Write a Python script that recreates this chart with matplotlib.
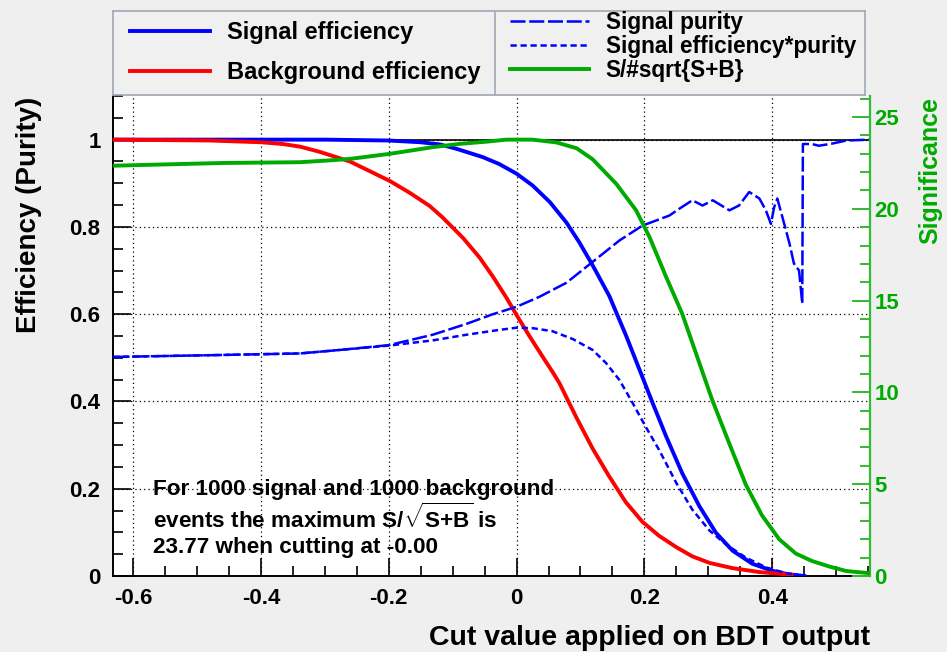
"""
BDT cut efficiencies and significance (TMVA style)
"""

import matplotlib
matplotlib.use("Agg")
import matplotlib.pyplot as plt
from matplotlib.ticker import MultipleLocator, FixedLocator

plt.rcParams["font.family"] = ["Liberation Sans", "DejaVu Sans"]
plt.rcParams["font.weight"] = "bold"
plt.rcParams["mathtext.fontset"] = "custom"
plt.rcParams["mathtext.rm"] = "Liberation Sans:bold"
plt.rcParams["mathtext.bf"] = "Liberation Sans:bold"

# ---- data ----
sig_eff_x = [-0.631, -0.30, -0.20, -0.15, -0.12, -0.094, -0.053, -0.027, 0.0, 0.025,
             0.052, 0.078, 0.098, 0.119, 0.145, 0.171, 0.192, 0.213, 0.234, 0.259,
             0.286, 0.312, 0.338, 0.369, 0.40, 0.425, 0.45]
sig_eff_y = [1.0, 1.0, 0.998, 0.994, 0.989, 0.979, 0.96, 0.944, 0.922, 0.895,
             0.857, 0.810, 0.765, 0.712, 0.642, 0.552, 0.474, 0.396, 0.320, 0.236,
             0.160, 0.099, 0.058, 0.028, 0.012, 0.004, 0.0]

bkg_eff_x = [-0.631, -0.48, -0.40, -0.366, -0.339, -0.308, -0.261, -0.23, -0.198, -0.167,
             -0.136, -0.116, -0.084, -0.058, -0.037, -0.016, 0.0, 0.02, 0.041, 0.057,
             0.067, 0.094, 0.119, 0.145, 0.171, 0.197, 0.223, 0.25, 0.275, 0.302,
             0.338, 0.38, 0.43]
bkg_eff_y = [1.0, 0.998, 0.994, 0.99, 0.984, 0.972, 0.950, 0.928, 0.905, 0.878,
             0.848, 0.822, 0.775, 0.730, 0.686, 0.638, 0.598, 0.550, 0.502, 0.466,
             0.442, 0.362, 0.292, 0.228, 0.169, 0.124, 0.092, 0.066, 0.045, 0.03,
             0.018, 0.009, 0.003]

purity_x = [-0.631, -0.48, -0.339, -0.277, -0.20, -0.131, -0.078, -0.037, 0.0, 0.036,
            0.078, 0.114, 0.161, 0.197, 0.239, 0.255, 0.275, 0.291, 0.307, 0.333,
            0.348, 0.364, 0.38, 0.39, 0.398, 0.403, 0.408, 0.416, 0.427, 0.434,
            0.442, 0.447, 0.448, 0.462, 0.473, 0.494, 0.516, 0.553]
purity_y = [0.502, 0.506, 0.51, 0.518, 0.529, 0.553, 0.578, 0.600, 0.617, 0.640,
            0.672, 0.714, 0.769, 0.803, 0.826, 0.842, 0.861, 0.849, 0.861, 0.838,
            0.849, 0.88, 0.865, 0.838, 0.807, 0.845, 0.865, 0.822, 0.762, 0.716,
            0.70, 0.624, 0.99, 0.99, 0.986, 0.991, 0.998, 1.0]

effpur_x = [-0.631, -0.48, -0.339, -0.277, -0.20, -0.131, -0.078, -0.027, 0.0, 0.025,
            0.056, 0.088, 0.119, 0.14, 0.161, 0.181, 0.202, 0.223, 0.25, 0.275,
            0.302, 0.328, 0.359, 0.39, 0.42, 0.45]
effpur_y = [0.502, 0.506, 0.51, 0.518, 0.528, 0.54, 0.553, 0.564, 0.569, 0.568,
            0.561, 0.543, 0.518, 0.488, 0.449, 0.398, 0.342, 0.289, 0.213, 0.152,
            0.104, 0.072, 0.042, 0.020, 0.007, 0.0]

signif_x = [-0.631, -0.458, -0.339, -0.297, -0.261, -0.20, -0.131, -0.089, -0.047, -0.016,
            0.025, 0.062, 0.094, 0.119, 0.156, 0.187, 0.208, 0.234, 0.259, 0.281,
            0.306, 0.333, 0.359, 0.384, 0.411, 0.437, 0.462, 0.489, 0.516, 0.553]
signif_y = [22.35, 22.5, 22.54, 22.63, 22.72, 22.99, 23.36, 23.54, 23.66, 23.77,
            23.77, 23.62, 23.3, 22.7, 21.36, 19.92, 18.46, 16.29, 14.3, 12.1,
            9.6, 7.2, 4.95, 3.3, 2.0, 1.22, 0.82, 0.52, 0.27, 0.15]

x_ticks = [-0.6, -0.4, -0.2, 0.0, 0.2, 0.4]
x_ticklabels = ["-0.6", "-0.4", "-0.2", "0", "0.2", "0.4"]
y_ticks = [0.0, 0.2, 0.4, 0.6, 0.8, 1.0]
y_ticklabels = ["0", "0.2", "0.4", "0.6", "0.8", "1"]
sig_ticks = [0, 5, 10, 15, 20, 25]
sig_ticklabels = ["0", "5", "10", "15", "20", "25"]

n_signal = 1000
n_background = 1000
max_signif = 23.77
best_cut = "-0.00"

W, H = 947, 652
BG = "#efefef"
GREEN = "#00aa00"
GREEN_AX = "#33bb33"

fig = plt.figure(figsize=(W / 100, H / 100), dpi=100, facecolor=BG)
ax = fig.add_axes([113 / W, 1 - 576 / H, (870 - 113) / W, (576 - 96) / H])
ax.set_facecolor("white")

ax.set_xlim(-0.6315, 0.553)
ax.set_ylim(0, 1.1)

# grid + reference line
ax.xaxis.set_major_locator(FixedLocator(x_ticks))
ax.yaxis.set_major_locator(FixedLocator(y_ticks))
ax.xaxis.set_minor_locator(MultipleLocator(0.05))
ax.yaxis.set_minor_locator(MultipleLocator(0.05))
ax.set_xticklabels(x_ticklabels)
ax.set_yticklabels(y_ticklabels)
ax.grid(True, which="major", color="black", linestyle=(0, (1, 2.5)), linewidth=0.9)
ax.axhline(1.0, color="black", linewidth=1.2, zorder=2)

l_seff, = ax.plot(sig_eff_x, sig_eff_y, color="#0000ff", lw=2.8, zorder=3,
                  label="Signal efficiency")
l_beff, = ax.plot(bkg_eff_x, bkg_eff_y, color="#ff0000", lw=2.8, zorder=3,
                  label="Background efficiency")
l_pur, = ax.plot(purity_x, purity_y, color="#0000ff", lw=1.8, zorder=3,
                 linestyle=(0, (6, 1.5)), label="Signal purity")
l_ep, = ax.plot(effpur_x, effpur_y, color="#0000ff", lw=1.8, zorder=3,
                linestyle=(0, (2.5, 1.5)), label="Signal efficiency*purity")

# significance on the right-hand scale
ax2 = ax.twinx()
ax2.set_ylim(0, 1.1 * max_signif)
l_sig, = ax2.plot(signif_x, signif_y, color=GREEN, lw=2.8, zorder=3,
                  label="S/#sqrt{S+B}")
ax2.yaxis.set_major_locator(FixedLocator(sig_ticks))
ax2.yaxis.set_minor_locator(MultipleLocator(1))
ax2.set_yticklabels(sig_ticklabels)

for side in ["top", "right"]:
    ax.spines[side].set_visible(False)
for side in ["top", "left", "bottom"]:
    ax2.spines[side].set_visible(False)
ax2.spines["right"].set_color(GREEN_AX)
ax2.spines["right"].set_linewidth(1.6)
ax.spines["left"].set_linewidth(1.4)
ax.spines["bottom"].set_linewidth(1.4)

ax.tick_params(axis="both", which="major", direction="in", length=13, width=1.2,
               labelsize=16, pad=9)
ax.tick_params(axis="both", which="minor", direction="in", length=7, width=1.2)
ax.tick_params(axis="y", right=False)
ax.tick_params(axis="x", top=False)
ax2.tick_params(axis="y", which="major", direction="in", length=13, width=1.4,
                colors=GREEN_AX, labelcolor=GREEN, labelsize=16, pad=3)
ax2.tick_params(axis="y", which="minor", direction="in", length=7, width=1.4,
                colors=GREEN_AX)

# axis titles
fig.text(29 / W, 1 - 97 / H, "Efficiency (Purity)", rotation=90, ha="center",
         va="top", fontsize=20, fontweight="bold")
fig.text(930 / W, 1 - 97 / H, "Significance", rotation=90, ha="center",
         va="top", fontsize=18, fontweight="bold", color=GREEN)
fig.text(870 / W, 1 - 645 / H, "Cut value applied on BDT output", ha="right",
         va="baseline", fontsize=20.5, fontweight="bold")

# summary text
lines = [
    f"For {n_signal} signal and {n_background} background",
    r"events the maximum S/$\sqrt{\mathbf{S{+}B}}$ is",
    f"{max_signif:.2f} when cutting at {best_cut}",
]
for i, txt in enumerate(lines):
    fig.text(153 / W, 1 - (489 + 29.5 * i) / H, txt, ha="left", va="center",
             fontsize=16.2, fontweight="bold")

# legend box
lax = fig.add_axes([113 / W, 1 - 95 / H, (865 - 113) / W, (95 - 11) / H])
lax.set_facecolor("#f0f0f0")
lax.set_xticks([])
lax.set_yticks([])
for s in lax.spines.values():
    s.set_color("#a0a8b4")
    s.set_linewidth(1.2)
lax.axvline((495 - 113) / (865 - 113), color="#a0a8b4", lw=1.2)

leg1 = fig.legend(handles=[l_seff, l_beff], loc="upper left",
                  bbox_to_anchor=(130 / W, 1 - 21 / H), frameon=False,
                  fontsize=17, handlelength=3.4, handletextpad=0.72,
                  labelspacing=0.74, borderpad=0, borderaxespad=0)
leg2 = fig.legend(handles=[l_pur, l_ep, l_sig], loc="upper left",
                  bbox_to_anchor=(510 / W, 1 - 11 / H), frameon=False,
                  fontsize=16.3, handlelength=3.5, handletextpad=0.72,
                  labelspacing=0.05, borderpad=0, borderaxespad=0)
for leg in (leg1, leg2):
    for t in leg.get_texts():
        t.set_fontweight("bold")

plt.savefig("out.png", dpi=100, facecolor=BG)
